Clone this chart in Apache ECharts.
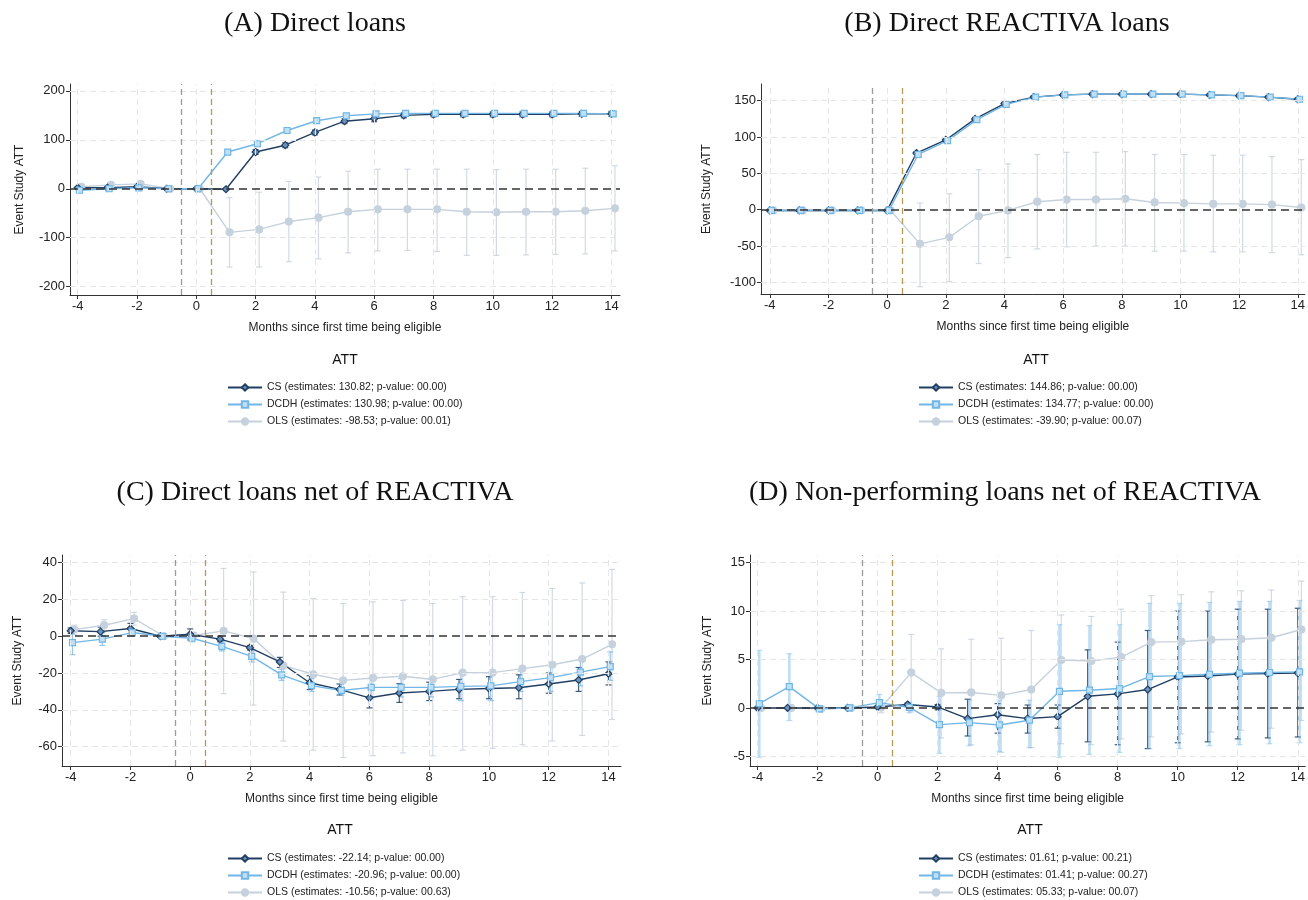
<!DOCTYPE html>
<html>
<head>
<meta charset="utf-8">
<title>Event study ATT</title>
<script src="https://cdn.jsdelivr.net/npm/echarts@6/dist/echarts.min.js"></script>
<style>
  html, body { margin: 0; padding: 0; background: #fff; }
  #chart { width: 1308px; height: 900px; }
</style>
</head>
<body>
<div id="chart"></div>
<script>
// months relative to first eligibility
const months = [-4, -3, -2, -1, 0, 1, 2, 3, 4, 5, 6, 7, 8, 9, 10, 11, 12, 13, 14];
const xTicks = [-4, -2, 0, 2, 4, 6, 8, 10, 12, 14];

// (A) Direct loans
const A_CS     = [2, 2, 4, 0, 0, -1, 75, 89, 115, 138, 143, 150, 152, 152, 152, 152, 152, 153, 153];
const A_CS_LO  = [0, 0, 1, -1, -1, -3, 70, 84, 110, 133, 137, 145, 147, 147, 147, 147, 147, 148, 148];
const A_CS_HI  = [4, 4, 7, 1, 1, 1, 80, 94, 120, 143, 149, 155, 157, 157, 157, 157, 157, 158, 158];
const A_DC     = [-3, 0, 2, 0, 0, 75, 92, 119, 139, 149, 153, 154, 154, 154, 154, 154, 154, 154, 153];
const A_DC_LO  = [-6, -2, 0, -1, -1, 71, 88, 115, 135, 145, 148, 149, 149, 149, 149, 149, 149, 149, 148];
const A_DC_HI  = [0, 2, 4, 1, 1, 79, 96, 123, 143, 153, 158, 159, 159, 159, 159, 159, 159, 159, 158];
const A_OLS    = [4, 8, 10, 0, 0, -89, -83, -67, -59, -47, -42, -42, -42, -47, -48, -47, -47, -45, -40];
const A_OLS_LO = [0, 4, 6, -1, -1, -160, -160, -149, -143, -131, -127, -126, -128, -136, -136, -135, -134, -133, -127];
const A_OLS_HI = [8, 12, 14, 1, 1, -18, -7, 15, 24, 36, 40, 40, 40, 40, 39, 40, 40, 42, 47];
const A_TICKS  = [-200, -100, 0, 100, 200];
const A_LEGEND = ['CS (estimates: 130.82; p-value: 00.00)', 'DCDH (estimates: 130.98; p-value: 00.00)', 'OLS (estimates: -98.53; p-value: 00.01)'];

// (B) Direct REACTIVA loans
const B_CS     = [-1, -1, -1, -1, -1, 78, 96, 125, 146, 155, 158, 159, 159, 159, 159, 158, 157, 155, 152];
const B_CS_LO  = [-2, -2, -2, -2, -2, 76, 94, 123, 144, 153, 156, 157, 157, 157, 157, 156, 155, 153, 150];
const B_CS_HI  = [0, 0, 0, 0, 0, 80, 98, 127, 148, 157, 160, 161, 161, 161, 161, 160, 159, 157, 154];
const B_DC     = [-1, -1, -1, -1, -1, 76, 95, 124, 145, 155, 158, 159, 159, 159, 159, 158, 157, 155, 152];
const B_DC_LO  = [-2, -2, -2, -2, -2, 74, 93, 122, 143, 153, 156, 157, 157, 157, 157, 156, 155, 153, 150];
const B_DC_HI  = [0, 0, 0, 0, 0, 78, 97, 126, 147, 157, 160, 161, 161, 161, 161, 160, 159, 157, 154];
const B_OLS    = [-1, -1, -1, -1, -1, -47, -38, -9, -1, 11, 14, 14, 15, 10, 9, 8, 8, 7, 3];
const B_OLS_LO = [-2, -2, -2, -2, -2, -106, -99, -74, -66, -54, -51, -50, -50, -57, -57, -58, -58, -59, -62];
const B_OLS_HI = [0, 0, 0, 0, 0, 9, 22, 55, 63, 76, 79, 79, 80, 76, 76, 75, 75, 73, 69];
const B_TICKS  = [-100, -50, 0, 50, 100, 150];
const B_LEGEND = ['CS (estimates: 144.86; p-value: 00.00)', 'DCDH (estimates: 134.77; p-value: 00.00)', 'OLS (estimates: -39.90; p-value: 00.07)'];

// (C) Direct loans net of REACTIVA
const C_CS     = [3, 2.5, 4.2, 0, 1.1, -1.6, -6.2, -14, -25.3, -28.9, -33.5, -30.9, -30, -28.9, -28.4, -28, -26, -23.8, -20.4];
const C_CS_LO  = [1.5, 0, 1.5, -0.5, -2, -3, -7.5, -17, -29, -32, -39, -36, -35, -34, -34, -34, -31, -30, -26.5];
const C_CS_HI  = [4.5, 5, 7, 0.5, 4, 0, -5, -11.5, -21.5, -26, -28, -25.8, -25, -23.5, -22, -21, -20, -17, -14];
const C_DC     = [-3.5, -1.6, 2, 0, -1.1, -5.5, -11, -21, -26.9, -29.5, -27.8, -27.8, -27.8, -27.3, -27, -24.7, -22.5, -19.5, -16.5];
const C_DC_LO  = [-10, -5, 0, -0.5, -3, -8, -14, -24, -30, -32, -33, -33, -33, -35, -35, -30, -30, -27, -24];
const C_DC_HI  = [3, 2, 4, 0.5, 1, -3, -8, -18, -23, -26, -23, -23, -23, -20, -20, -19, -16, -13, -8.5];
const C_OLS    = [3.6, 6, 9.6, 0, 0.4, 2.9, -1.3, -16, -20.7, -24, -22.7, -21.8, -23.5, -19.8, -19.8, -17.6, -15.5, -12.4, -4.4];
const C_OLS_LO = [1, 3, 6, -0.5, -1, -31.3, -37.5, -57, -62, -66, -65, -63.5, -65, -62, -61, -59, -57, -54, -45.3];
const C_OLS_HI = [6, 9, 13, 0.5, 2, 36.9, 35, 24, 20.5, 17.8, 18.7, 19.5, 17.8, 21.5, 21.5, 23.8, 26, 29, 36.4];
const C_TICKS  = [-60, -40, -20, 0, 20, 40];
const C_LEGEND = ['CS (estimates: -22.14; p-value: 00.00)', 'DCDH (estimates: -20.96; p-value: 00.00)', 'OLS (estimates: -10.56; p-value: 00.63)'];

// (D) Non-performing loans net of REACTIVA
const D_CS     = [0, 0, 0, 0, 0.1, 0.35, 0.1, -1.1, -0.7, -1.1, -0.9, 1.2, 1.45, 1.9, 3.2, 3.3, 3.5, 3.55, 3.6];
const D_CS_LO  = [-0.05, -0.05, -0.05, -0.05, 0, 0.2, -0.2, -2.9, -2.6, -2.6, -2.1, -3.5, -3.8, -4.2, -3.6, -3.5, -3.2, -3.1, -3];
const D_CS_HI  = [0.05, 0.05, 0.05, 0.05, 0.2, 0.5, 0.35, 0.9, 0.45, 0.3, 0.3, 6, 6.8, 8, 10, 10, 10.2, 10.2, 10.3];
const D_DC     = [0.45, 2.2, -0.1, 0, 0.55, 0.05, -1.72, -1.52, -1.76, -1.27, 1.72, 1.83, 2, 3.24, 3.34, 3.48, 3.59, 3.66, 3.72];
const D_DC_LO  = [-5.1, -1.3, -0.2, -0.05, -0.25, -0.5, -4.7, -3.9, -4.5, -4.1, -5.1, -4.8, -4.6, -4.2, -4.2, -3.9, -3.8, -3.7, -3.6];
const D_DC_HI  = [5.95, 5.6, 0, 0.05, 1.4, 0.6, 1.2, 0.8, 0.8, 0.8, 8.6, 8.5, 8.6, 10.8, 10.8, 10.9, 11, 11, 11.1];
const D_OLS    = [0, 0, -0.1, 0, 0.05, 3.65, 1.55, 1.6, 1.3, 1.9, 4.95, 4.85, 5.25, 6.8, 6.85, 7.05, 7.1, 7.25, 8.1];
const D_OLS_LO = [-0.1, -0.1, -0.2, -0.1, -0.5, -0.4, -3.1, -3.8, -4.6, -4.1, -3.7, -3.8, -3.2, -3, -2.7, -2.5, -2.3, -2.1, -1.3];
const D_OLS_HI = [0.1, 0.1, 0, 0.1, 0.8, 7.6, 6.1, 7.1, 7.2, 8, 9.6, 9.45, 10.2, 11.6, 11.7, 12, 12.1, 12.2, 13.1];
const D_TICKS  = [-5, 0, 5, 10, 15];
const D_LEGEND = ['CS (estimates: 01.61; p-value: 00.21)', 'DCDH (estimates: 01.41; p-value: 00.27)', 'OLS (estimates: 05.33; p-value: 00.07)'];

const TITLES = ['(A) Direct loans', '(B) Direct REACTIVA loans', '(C) Direct loans net of REACTIVA', '(D) Non-performing loans net of REACTIVA'];

const SANS = '"Liberation Sans", Arial, sans-serif';
const SERIF = '"Liberation Serif", "DejaVu Serif", serif';

// styles for the three estimators
const STY = {
  cs:  { line: '#213f63', fill: '#6d93bb', bar: 'rgba(33,63,99,0.85)', symbol: 'diamond', size: 7, off: 0 },
  dc:  { line: '#72b6e6', fill: '#c2e0f5', bar: 'rgba(114,182,230,0.75)', symbol: 'rect', size: 6, off: 0.06 },
  ols: { line: '#c5d1dd', fill: '#c5d1dd', bar: 'rgba(197,209,221,0.8)', symbol: 'circle', size: 7, off: 0.12 }
};

const panels = [
  { grid: { left: 70, top: 84, width: 550, height: 211 }, x: [-4.26, 14.29], y: [-217, 214], ticks: A_TICKS, yGap: 44,
    cs: [A_CS, A_CS_LO, A_CS_HI], dc: [A_DC, A_DC_LO, A_DC_HI], ols: [A_OLS, A_OLS_LO, A_OLS_HI], legend: A_LEGEND,
    title: [315, 24], att: [345, 360], leg: [222, 377], dcBar: 1.2 },
  { grid: { left: 761, top: 84, width: 547, height: 210 }, x: [-4.3, 14.24], y: [-116, 173], ticks: B_TICKS, yGap: 48,
    cs: [B_CS, B_CS_LO, B_CS_HI], dc: [B_DC, B_DC_LO, B_DC_HI], ols: [B_OLS, B_OLS_LO, B_OLS_HI], legend: B_LEGEND,
    title: [1007, 24], att: [1036, 360], leg: [913, 377], dcBar: 1.2 },
  { grid: { left: 62, top: 555, width: 559, height: 211 }, x: [-4.29, 14.42], y: [-70.6, 44.2], ticks: C_TICKS, yGap: 38,
    cs: [C_CS, C_CS_LO, C_CS_HI], dc: [C_DC, C_DC_LO, C_DC_HI], ols: [C_OLS, C_OLS_LO, C_OLS_HI], legend: C_LEGEND,
    title: [315, 493], att: [340, 830], leg: [222, 848], dcBar: 1.2 },
  { grid: { left: 750, top: 555, width: 558, height: 211 }, x: [-4.25, 14.25], y: [-6.0, 15.8], ticks: D_TICKS, yGap: 36,
    cs: [D_CS, D_CS_LO, D_CS_HI], dc: [D_DC, D_DC_LO, D_DC_HI], ols: [D_OLS, D_OLS_LO, D_OLS_HI], legend: D_LEGEND,
    title: [1005, 493], att: [1030, 830], leg: [913, 848], dcBar: 2.6 }
];

function errorBars(color, width) {
  return function (params, api) {
    const x = api.value(0);
    const top = api.coord([x, api.value(2)]);
    const bot = api.coord([x, api.value(1)]);
    const cap = 3;
    const style = { stroke: color, lineWidth: width, fill: null };
    const capStyle = { stroke: color, lineWidth: 1.2, fill: null };
    return {
      type: 'group',
      children: [
        { type: 'line', shape: { x1: top[0], y1: top[1], x2: bot[0], y2: bot[1] }, style: style },
        { type: 'line', shape: { x1: top[0] - cap, y1: top[1], x2: top[0] + cap, y2: top[1] }, style: capStyle },
        { type: 'line', shape: { x1: bot[0] - cap, y1: bot[1], x2: bot[0] + cap, y2: bot[1] }, style: capStyle }
      ]
    };
  };
}

const grids = [], xAxes = [], yAxes = [], series = [], legends = [], graphics = [];

panels.forEach(function (p, i) {
  grids.push(p.grid);
  xAxes.push({
    type: 'value', gridIndex: i, min: p.x[0], max: p.x[1],
    name: 'Months since first time being eligible', nameLocation: 'middle', nameGap: 27,
    nameTextStyle: { fontFamily: SANS, fontSize: 12, color: '#222' },
    axisLine: { show: true, onZero: false, lineStyle: { color: '#333', width: 1 } },
    axisTick: { show: true, length: 4, customValues: xTicks, lineStyle: { color: '#333' } },
    axisLabel: { customValues: xTicks, fontFamily: SANS, fontSize: 13, color: '#222', margin: 5 },
    splitLine: { show: false }
  });
  yAxes.push({
    type: 'value', gridIndex: i, min: p.y[0], max: p.y[1],
    name: 'Event Study ATT', nameLocation: 'middle', nameGap: p.yGap,
    nameTextStyle: { fontFamily: SANS, fontSize: 12, color: '#222' },
    axisLine: { show: true, onZero: false, lineStyle: { color: '#333', width: 1 } },
    axisTick: { show: true, length: 4, customValues: p.ticks, lineStyle: { color: '#333' } },
    axisLabel: { customValues: p.ticks, fontFamily: SANS, fontSize: 13, color: '#222', margin: 5 },
    splitLine: { show: false }
  });

  // light dashed grid
  const gridStyle = { color: '#e6e6e6', type: [6, 4], width: 1 };
  const gridData = xTicks.map(function (v) { return { xAxis: v, lineStyle: gridStyle }; })
    .concat(p.ticks.filter(function (v) { return v !== 0; }).map(function (v) { return { yAxis: v, lineStyle: gridStyle }; }));
  series.push({
    type: 'line', xAxisIndex: i, yAxisIndex: i, data: [], z: 0, silent: true,
    markLine: { silent: true, symbol: 'none', label: { show: false }, animation: false, data: gridData }
  });

  ['ols', 'cs', 'dc'].forEach(function (k) {
    const s = STY[k];
    const d = p[k];
    const name = p.legend[k === 'cs' ? 0 : (k === 'dc' ? 1 : 2)];
    const barColor = (k === 'dc' && p.dcBar > 2) ? 'rgba(114,182,230,0.45)' : s.bar;
    series.push({
      type: 'custom', name: name + ' CI', xAxisIndex: i, yAxisIndex: i, z: 2,
      renderItem: errorBars(barColor, k === 'dc' ? p.dcBar : 1.2), encode: { x: 0, y: [1, 2] },
      data: months.map(function (m, j) { return [m + s.off, d[1][j], d[2][j]]; }),
      silent: true, animation: false
    });
  });
  ['ols', 'cs', 'dc'].forEach(function (k) {
    const s = STY[k];
    const d = p[k];
    const name = p.legend[k === 'cs' ? 0 : (k === 'dc' ? 1 : 2)];
    series.push({
      type: 'line', name: name, xAxisIndex: i, yAxisIndex: i, z: 3,
      data: months.map(function (m, j) { return [m + s.off, d[0][j]]; }),
      symbol: s.symbol, symbolSize: s.size, showAllSymbol: true,
      lineStyle: { color: s.line, width: 1.4 },
      itemStyle: { color: s.fill, borderColor: s.line, borderWidth: 1.2 },
      animation: false, silent: true
    });
  });

  // zero line and treatment reference lines
  series.push({
    type: 'line', xAxisIndex: i, yAxisIndex: i, data: [], z: 4, silent: true,
    markLine: {
      silent: true, symbol: 'none', label: { show: false }, animation: false,
      data: [
        { yAxis: 0, lineStyle: { color: '#333', type: [8, 5], width: 1.5 } },
        { xAxis: -0.5, lineStyle: { color: '#9a9a9a', type: [6, 4], width: 1.3 } },
        { xAxis: 0.5, lineStyle: { color: '#b39a55', type: [6, 4], width: 1.3 } }
      ]
    }
  });

  legends.push({
    data: p.legend, orient: 'vertical', left: p.leg[0], top: p.leg[1], height: 80,
    itemWidth: 34, itemHeight: 8, itemGap: 6, selectedMode: false,
    textStyle: { fontFamily: SANS, fontSize: 10.5, color: '#222' }
  });

  graphics.push({
    type: 'text', x: p.title[0], y: p.title[1], silent: true,
    style: { text: TITLES[i], textAlign: 'center', textVerticalAlign: 'middle', font: '28px ' + SERIF, fill: '#111' }
  });
  graphics.push({
    type: 'text', x: p.att[0], y: p.att[1], silent: true,
    style: { text: 'ATT', textAlign: 'center', textVerticalAlign: 'middle', font: '14px ' + SANS, fill: '#111' }
  });
});

const chart = echarts.init(document.getElementById('chart'));
chart.setOption({
  backgroundColor: '#fff',
  animation: false,
  grid: grids,
  xAxis: xAxes,
  yAxis: yAxes,
  legend: legends,
  graphic: graphics,
  series: series
});
</script>
</body>
</html>
